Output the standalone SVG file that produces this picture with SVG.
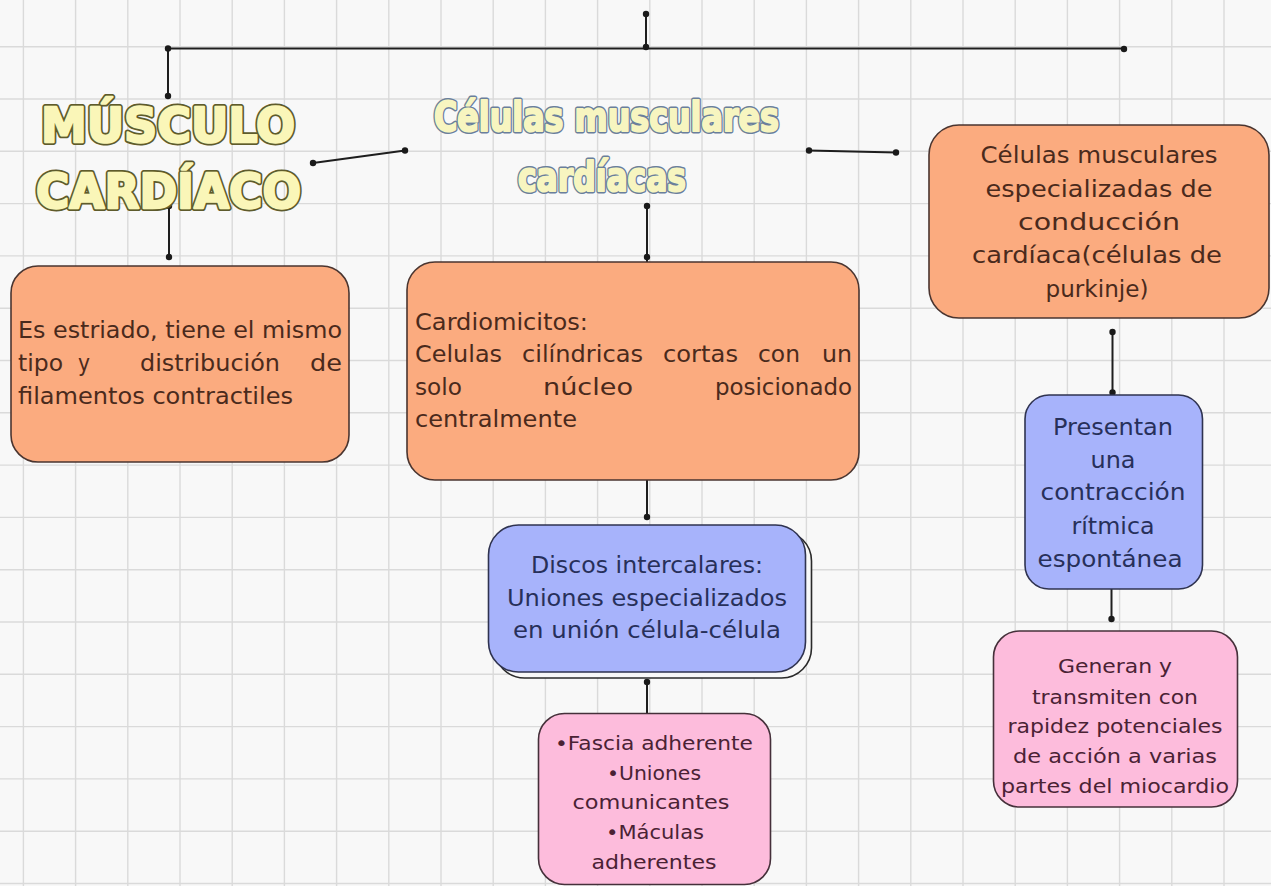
<svg xmlns="http://www.w3.org/2000/svg" width="1271" height="886" viewBox="0 0 1271 886">
<defs>
<style>
.grid{stroke:#dadada;stroke-width:1.4;fill:none}
.ln{stroke:#1e1e1e;stroke-width:2;fill:none}
.dot{fill:#1a1a1a}
.or{fill:#fbab7f;stroke:#4a3530;stroke-width:1.6}
.bl{fill:#a7b3fb;stroke:#2f3350;stroke-width:1.6}
.pk{fill:#fdbcdc;stroke:#45303a;stroke-width:1.6}
.t{font-family:"DejaVu Sans","Noto Sans",sans-serif;font-size:22.5px}
.s{font-size:20px}
.to{fill:#4a2a1c}
.tb{fill:#27305a}
.tp{fill:#4a2234}
.c{text-anchor:middle}
.ttlo{font-family:"DejaVu Sans","Liberation Sans",sans-serif;font-weight:bold;fill:#5e5b2c;stroke:#5e5b2c;stroke-width:6;stroke-linejoin:round}
.ttli{font-family:"DejaVu Sans","Liberation Sans",sans-serif;font-weight:bold;fill:#faf6b8;stroke:#faf6b8;stroke-width:2.4;stroke-linejoin:round}
.ttl2o{font-family:"DejaVu Sans Condensed","DejaVu Sans",sans-serif;font-stretch:condensed;font-weight:bold;fill:#6a7f9c;stroke:#6a7f9c;stroke-width:5;stroke-linejoin:round}
.ttl2i{font-family:"DejaVu Sans Condensed","DejaVu Sans",sans-serif;font-stretch:condensed;font-weight:bold;fill:#f7f5c0;stroke:#f7f5c0;stroke-width:2;stroke-linejoin:round}
</style>
</defs>
<rect width="1271" height="886" fill="#f8f8f8"/>
<path class="grid" d="M23.4 0V886M75.6 0V886M127.8 0V886M180 0V886M232.2 0V886M284.4 0V886M336.6 0V886M388.8 0V886M441 0V886M493.2 0V886M545.4 0V886M597.6 0V886M649.8 0V886M702 0V886M754.2 0V886M806.4 0V886M858.6 0V886M910.8 0V886M963 0V886M1015.2 0V886M1067.4 0V886M1119.6 0V886M1171.8 0V886M1224 0V886M0 46.7H1271M0 99H1271M0 151.3H1271M0 203.6H1271M0 255.9H1271M0 308.2H1271M0 360.5H1271M0 412.8H1271M0 465.1H1271M0 517.4H1271M0 569.7H1271M0 622H1271M0 674.3H1271M0 726.6H1271M0 778.9H1271M0 831.2H1271M0 883.5H1271"/>

<g id="connectors">
<path class="ln" d="M646 14V48M168 48.5H1124M168 48.5V96M313 163L405 150.5M809 150.5L896 152.5M169 206V257M647 206V262M647 480V517M647 681V713M1112.5 332V395M1111.5 589V619"/>
<circle class="dot" cx="646" cy="14" r="3.2"/>
<circle class="dot" cx="646" cy="47" r="3.2"/>
<circle class="dot" cx="168" cy="48.5" r="3.2"/>
<circle class="dot" cx="1124" cy="49" r="3.2"/>
<circle class="dot" cx="168" cy="96" r="3.2"/>
<circle class="dot" cx="313" cy="163" r="3.2"/>
<circle class="dot" cx="405" cy="150.5" r="3.2"/>
<circle class="dot" cx="809" cy="150.5" r="3.2"/>
<circle class="dot" cx="896" cy="152.5" r="3.2"/>
<circle class="dot" cx="169" cy="206" r="3.2"/>
<circle class="dot" cx="169" cy="257" r="3.2"/>
<circle class="dot" cx="647" cy="206" r="3.2"/>
<circle class="dot" cx="647" cy="257" r="3.2"/>
<circle class="dot" cx="647" cy="517" r="3.2"/>
<circle class="dot" cx="647" cy="682" r="3.2"/>
<circle class="dot" cx="1112.5" cy="332" r="3.2"/>
<circle class="dot" cx="1112.5" cy="392.5" r="3.2"/>
<circle class="dot" cx="1111.5" cy="619" r="3.2"/>
</g>

<g id="title-musculo">
<text class="ttlo" font-size="48" x="41" y="142" textLength="254" lengthAdjust="spacingAndGlyphs">MÚSCULO</text>
<text class="ttlo" font-size="48" x="36" y="208" textLength="265" lengthAdjust="spacingAndGlyphs">CARDÍACO</text>
<text class="ttli" font-size="48" x="41" y="142" textLength="254" lengthAdjust="spacingAndGlyphs">MÚSCULO</text>
<text class="ttli" font-size="48" x="36" y="208" textLength="265" lengthAdjust="spacingAndGlyphs">CARDÍACO</text>
</g>

<g id="title-celulas">
<text class="ttl2o" font-size="41" x="434" y="131" textLength="345" lengthAdjust="spacingAndGlyphs">Células musculares</text>
<text class="ttl2o" font-size="41" x="518" y="191" textLength="168" lengthAdjust="spacingAndGlyphs">cardíacas</text>
<text class="ttl2i" font-size="41" x="434" y="131" textLength="345" lengthAdjust="spacingAndGlyphs">Células musculares</text>
<text class="ttl2i" font-size="41" x="518" y="191" textLength="168" lengthAdjust="spacingAndGlyphs">cardíacas</text>
</g>

<g id="node-estriado">
<rect class="or" x="11" y="266" width="338" height="196" rx="27"/>
<text class="t to" x="18" y="338" textLength="324" lengthAdjust="spacingAndGlyphs">Es estriado, tiene el mismo</text>
<text class="t to" x="18" y="371" textLength="45" lengthAdjust="spacingAndGlyphs">tipo</text>
<text class="t to" x="78" y="371" textLength="12" lengthAdjust="spacingAndGlyphs">y</text>
<text class="t to" x="140" y="371" textLength="140" lengthAdjust="spacingAndGlyphs">distribución</text>
<text class="t to" x="310" y="371" textLength="32" lengthAdjust="spacingAndGlyphs">de</text>
<text class="t to" x="18" y="404" textLength="275" lengthAdjust="spacingAndGlyphs">filamentos contractiles</text>
</g>

<g id="node-cardiomicitos">
<rect class="or" x="407" y="262" width="452" height="218" rx="28"/>
<text class="t to" x="415" y="330" textLength="173" lengthAdjust="spacingAndGlyphs">Cardiomicitos:</text>
<text class="t to" x="415" y="362" textLength="87" lengthAdjust="spacingAndGlyphs">Celulas</text>
<text class="t to" x="522" y="362" textLength="121" lengthAdjust="spacingAndGlyphs">cilíndricas</text>
<text class="t to" x="663" y="362" textLength="75" lengthAdjust="spacingAndGlyphs">cortas</text>
<text class="t to" x="758" y="362" textLength="42" lengthAdjust="spacingAndGlyphs">con</text>
<text class="t to" x="822" y="362" textLength="30" lengthAdjust="spacingAndGlyphs">un</text>
<text class="t to" x="415" y="395" textLength="47" lengthAdjust="spacingAndGlyphs">solo</text>
<text class="t to" x="543" y="395" textLength="90" lengthAdjust="spacingAndGlyphs">núcleo</text>
<text class="t to" x="715" y="395" textLength="137" lengthAdjust="spacingAndGlyphs">posicionado</text>
<text class="t to" x="415" y="427" textLength="162" lengthAdjust="spacingAndGlyphs">centralmente</text>
</g>

<g id="node-purkinje">
<rect class="or" x="929" y="125" width="340" height="193" rx="30"/>
<text class="t to c" x="1099" y="163" textLength="237" lengthAdjust="spacingAndGlyphs">Células musculares</text>
<text class="t to c" x="1099" y="197" textLength="227" lengthAdjust="spacingAndGlyphs">especializadas de</text>
<text class="t to c" x="1099" y="230" textLength="162" lengthAdjust="spacingAndGlyphs">conducción</text>
<text class="t to c" x="1097" y="263" textLength="250" lengthAdjust="spacingAndGlyphs">cardíaca(células de</text>
<text class="t to c" x="1097" y="297" textLength="103" lengthAdjust="spacingAndGlyphs">purkinje)</text>
</g>

<g id="node-discos">
<rect x="494.5" y="531" width="317" height="147" rx="30" fill="#f8f8f8" stroke="#2a2a2a" stroke-width="1.6"/>
<rect class="bl" x="488.5" y="525" width="317" height="147" rx="30"/>
<text class="t tb c" x="647" y="573" textLength="232" lengthAdjust="spacingAndGlyphs">Discos intercalares:</text>
<text class="t tb c" x="647" y="606" textLength="280" lengthAdjust="spacingAndGlyphs">Uniones especializados</text>
<text class="t tb c" x="647" y="638" textLength="268" lengthAdjust="spacingAndGlyphs">en unión célula-célula</text>
</g>

<g id="node-fascia">
<rect class="pk" x="538.5" y="713.5" width="232" height="171" rx="26"/>
<text class="t s tp c" x="654" y="750" textLength="198" lengthAdjust="spacingAndGlyphs">•Fascia adherente</text>
<text class="t s tp c" x="654" y="780" textLength="94" lengthAdjust="spacingAndGlyphs">•Uniones</text>
<text class="t s tp c" x="651" y="809" textLength="157" lengthAdjust="spacingAndGlyphs">comunicantes</text>
<text class="t s tp c" x="655" y="839" textLength="98" lengthAdjust="spacingAndGlyphs">•Máculas</text>
<text class="t s tp c" x="654" y="869" textLength="125" lengthAdjust="spacingAndGlyphs">adherentes</text>
</g>

<g id="node-presentan">
<rect class="bl" x="1025" y="395" width="177.5" height="194" rx="24"/>
<text class="t tb c" x="1113" y="435" textLength="120" lengthAdjust="spacingAndGlyphs">Presentan</text>
<text class="t tb c" x="1113" y="468" textLength="45" lengthAdjust="spacingAndGlyphs">una</text>
<text class="t tb c" x="1113" y="500" textLength="145" lengthAdjust="spacingAndGlyphs">contracción</text>
<text class="t tb c" x="1113" y="534" textLength="83" lengthAdjust="spacingAndGlyphs">rítmica</text>
<text class="t tb c" x="1110" y="567" textLength="145" lengthAdjust="spacingAndGlyphs">espontánea</text>
</g>

<g id="node-generan">
<rect class="pk" x="993.5" y="631" width="244" height="176" rx="26"/>
<text class="t s tp c" x="1115" y="673" textLength="114" lengthAdjust="spacingAndGlyphs">Generan y</text>
<text class="t s tp c" x="1115" y="704" textLength="166" lengthAdjust="spacingAndGlyphs">transmiten con</text>
<text class="t s tp c" x="1115" y="733" textLength="215" lengthAdjust="spacingAndGlyphs">rapidez potenciales</text>
<text class="t s tp c" x="1115" y="763" textLength="204" lengthAdjust="spacingAndGlyphs">de acción a varias</text>
<text class="t s tp c" x="1115" y="793" textLength="228" lengthAdjust="spacingAndGlyphs">partes del miocardio</text>
</g>
</svg>
